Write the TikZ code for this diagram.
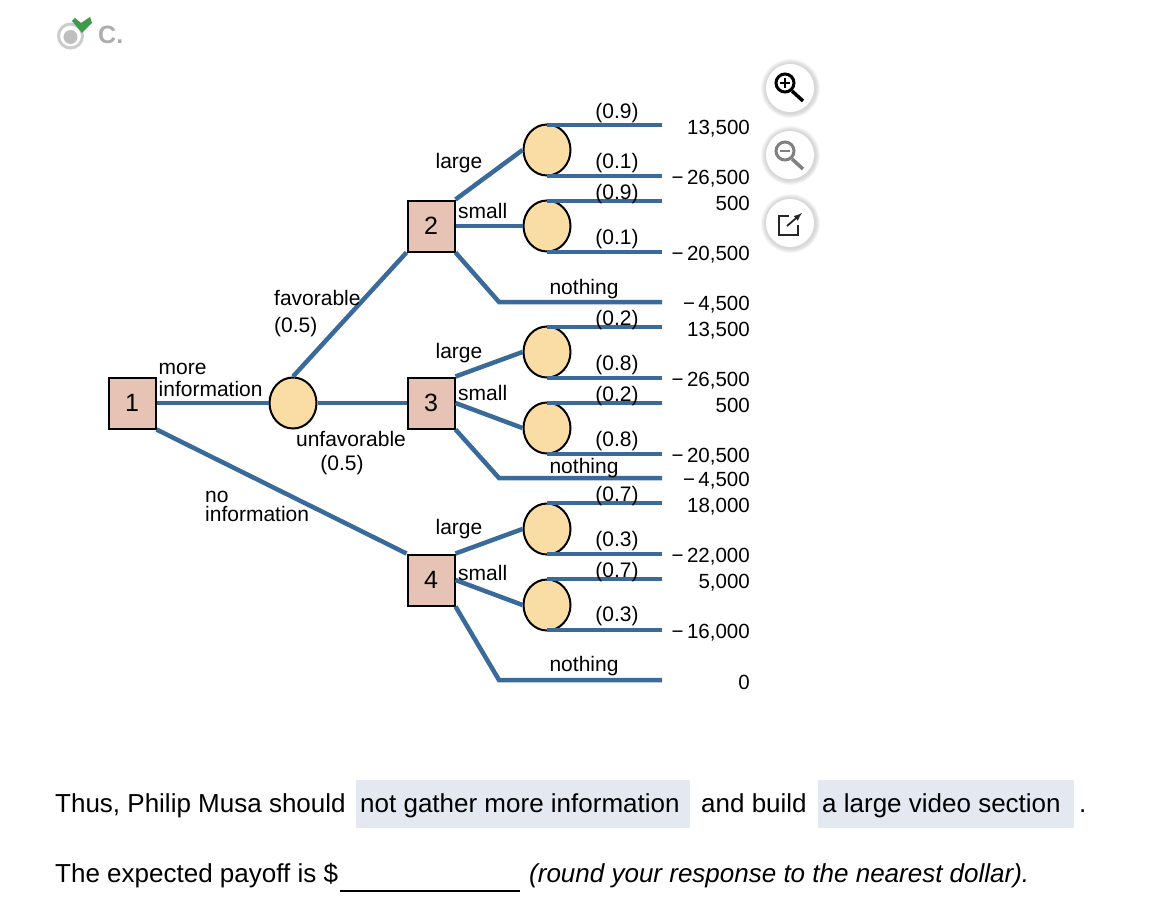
\documentclass[tikz,border=0pt]{standalone}
\usepackage{fontspec}
\setmainfont{Liberation Sans}
\usepackage{tikz}
\usetikzlibrary{shapes.geometric,shadows}
\definecolor{branchblue}{HTML}{3A6A9A}
\definecolor{decfill}{HTML}{E6C3B4}
\definecolor{chancefill}{HTML}{F9DDA4}
\definecolor{answerfill}{HTML}{E4E8F1}
\definecolor{checkgreen}{HTML}{3F9A4A}
\tikzset{
  decision/.style={draw=black,line width=2pt,fill=decfill,minimum width=47pt,minimum height=51pt,inner sep=0pt,font=\fontsize{25}{27}\selectfont},
  chance/.style={ellipse,draw=black,line width=2pt,fill=chancefill,minimum width=47pt,minimum height=51pt,inner sep=0pt},
  branch/.style={draw=branchblue,line width=4.5pt},
  lbl/.style={inner sep=0pt,yshift=-1.5pt,font=\fontsize{21}{22}\selectfont},
  llbl/.style={lbl,anchor=west,align=left},
  payoff/.style={lbl,anchor=east,font=\fontsize{20.5}{22}\selectfont},
  sentence/.style={inner sep=0pt,anchor=base west,font=\fontsize{26}{28}\selectfont},
  iconbtn/.style={circle,fill=white,minimum size=48pt,inner sep=0pt,circular glow={fill=black!30,opacity=0.5}}
}
\begin{document}
\begin{tikzpicture}[x=1pt,y=-1pt]
   \useasboundingbox (0,0) rectangle (1158,896);

   \fill[answerfill] (356,780) rectangle (690,828);
   \fill[answerfill] (818,780) rectangle (1074,828);

   \draw (132,403) node[decision] (dec1) {1};
   \draw (431,226) node[decision] (dec2) {2};
   \draw (431,403) node[decision] (dec3) {3};
   \draw (431,580) node[decision] (dec4) {4};
   \draw (293,403) node[chance] (info) {};
   \draw (547,150) node[chance] (large2) {};
   \draw (547,226) node[chance] (small2) {};
   \draw (547,352) node[chance] (large3) {};
   \draw (547,428) node[chance] (small3) {};
   \draw (547,529) node[chance] (large4) {};
   \draw (547,605) node[chance] (small4) {};

   \coordinate (end1) at (662,125);
   \coordinate (end2) at (662,176);
   \coordinate (end3) at (662,201);
   \coordinate (end4) at (662,252);
   \coordinate (end5) at (662,302);
   \coordinate (end6) at (662,327);
   \coordinate (end7) at (662,378);
   \coordinate (end8) at (662,403);
   \coordinate (end9) at (662,454);
   \coordinate (end10) at (662,478);
   \coordinate (end11) at (662,503);
   \coordinate (end12) at (662,554);
   \coordinate (end13) at (662,579);
   \coordinate (end14) at (662,630);
   \coordinate (end15) at (662,680);
   \coordinate (bend2) at (499,302);
   \coordinate (bend3) at (499,478);
   \coordinate (bend4) at (499,680);

   \path[branch] (dec1) edge (info);
   \path[branch] (dec1.south east) edge (dec4.north west);
   \path[branch] (info.north) edge (dec2.south west);
   \path[branch] (info) edge (dec3);
   \path[branch] (dec2.north east) edge (large2.west);
   \path[branch] (dec2) edge (small2);
   \draw[branch] (dec2.south east) -- (bend2) -- (end5);
   \path[branch] (dec3.north east) edge (large3.west);
   \path[branch] (dec3.east) edge (small3.west);
   \draw[branch] (dec3.south east) -- (bend3) -- (end10);
   \path[branch] (dec4.north east) edge (large4.west);
   \path[branch] (dec4.east) edge (small4.west);
   \draw[branch] (dec4.south east) -- (bend4) -- (end15);
   \path[branch] (large2 |- end1) edge (end1);
   \path[branch] (large2 |- end2) edge (end2);
   \path[branch] (small2 |- end3) edge (end3);
   \path[branch] (small2 |- end4) edge (end4);
   \path[branch] (large3 |- end6) edge (end6);
   \path[branch] (large3 |- end7) edge (end7);
   \path[branch] (small3 |- end8) edge (end8);
   \path[branch] (small3 |- end9) edge (end9);
   \path[branch] (large4 |- end11) edge (end11);
   \path[branch] (large4 |- end12) edge (end12);
   \path[branch] (small4 |- end13) edge (end13);
   \path[branch] (small4 |- end14) edge (end14);

   \draw (158.5,378) node[llbl] (more) {more\\information};
   \draw (205,505) node[llbl] (noinfo) {no\\[-3pt]information};
   \draw (274,298) node[llbl,yshift=1.5pt] (favor) {favorable};
   \draw (274,326) node[llbl] (favorp) {(0.5)};
   \draw (351,439) node[lbl,yshift=1.5pt] (unfavor) {unfavorable};
   \draw (342,464) node[lbl] (unfavorp) {(0.5)};

   \draw (459,162) node[lbl] (lg2) {large};
   \draw (458,211) node[llbl,yshift=1.5pt] (sm2) {small};
   \draw (459,352) node[lbl] (lg3) {large};
   \draw (458,393) node[llbl,yshift=1.5pt] (sm3) {small};
   \draw (459,528) node[lbl] (lg4) {large};
   \draw (458,573) node[llbl,yshift=1.5pt] (sm4) {small};
   \draw (584,288) node[lbl] (no2) {nothing};
   \draw (584,467) node[lbl] (no3) {nothing};
   \draw (584,665) node[lbl] (no4) {nothing};

   \draw (617,111.5) node[lbl] (p1) {(0.9)};
   \draw (617,161.5) node[lbl] (p2) {(0.1)};
   \draw (617,192.5) node[lbl] (p3) {(0.9)};
   \draw (617,237.5) node[lbl] (p4) {(0.1)};
   \draw (617,318.5) node[lbl] (p5) {(0.2)};
   \draw (617,363.5) node[lbl] (p6) {(0.8)};
   \draw (617,394.5) node[lbl] (p7) {(0.2)};
   \draw (617,439.5) node[lbl] (p8) {(0.8)};
   \draw (617,494.5) node[lbl] (p9) {(0.7)};
   \draw (617,539.5) node[lbl] (p10) {(0.3)};
   \draw (617,570.5) node[lbl] (p11) {(0.7)};
   \draw (617,614.5) node[lbl] (p12) {(0.3)};

   \draw (750,127) node[payoff] (pay1) {13,500};
   \draw (750,177) node[payoff] (pay2) {−\,26,500};
   \draw (750,202) node[payoff] (pay3) {500};
   \draw (750,253) node[payoff] (pay4) {−\,20,500};
   \draw (750,303) node[payoff] (pay5) {−\,4,500};
   \draw (750,329) node[payoff] (pay6) {13,500};
   \draw (750,379) node[payoff] (pay7) {−\,26,500};
   \draw (750,404) node[payoff] (pay8) {500};
   \draw (750,455) node[payoff] (pay9) {−\,20,500};
   \draw (750,479) node[payoff] (pay10) {−\,4,500};
   \draw (750,505) node[payoff] (pay11) {18,000};
   \draw (750,555) node[payoff] (pay12) {−\,22,000};
   \draw (750,581) node[payoff] (pay13) {5,000};
   \draw (750,631) node[payoff] (pay14) {−\,16,000};
   \draw (750,681) node[payoff] (pay15) {0};

   \draw (55,812) node[sentence] (thus) {Thus, Philip Musa should};
   \draw (360,812) node[sentence] (gather) {not gather more information};
   \draw (701,812) node[sentence] (build) {and build};
   \draw (822,812) node[sentence] (section) {a large video section};
   \draw (1079,812) node[sentence] (stop) {.};
   \draw (55,882) node[sentence] (payoff) {The expected payoff is \$};
   \draw (529,882) node[sentence] (round) {\itshape (round your response to the nearest dollar).};
   \coordinate (blankl) at (340,891);
   \coordinate (blankr) at (520,891);
   \draw[line width=2pt] (blankl) -- (blankr);

   \draw (98,35) node[inner sep=0pt,anchor=west,text=black!32,font=\fontsize{25}{27}\bfseries\selectfont] (part) {C.};
   \draw[black!20,line width=3pt] (70.5,36) circle (12);
   \fill[black!25] (70.5,37) circle (7);
   \fill[checkgreen] (72,21) -- (75,18) -- (81,23) -- (90,17) -- (92,23) -- (82,33) -- cycle;

   \draw (790,88) node[iconbtn] (zoomin) {};
   \draw (790,155) node[iconbtn] (zoomout) {};
   \draw (790,223) node[iconbtn] (popout) {};
   \draw[line width=3pt] (785,83) circle (9);
   \draw[line width=3.5pt] (792,91) -- (803,101);
   \draw[line width=1.4pt] (780,83) -- (790,83) (785,78) -- (785,88);
   \draw[black!50,line width=3pt] (785,151) circle (9);
   \draw[black!50,line width=3.5pt] (792,159) -- (803,169);
   \draw[black!50,line width=1.4pt] (780,151) -- (790,151);
   \draw[black!85,line width=1.6pt] (789,216) -- (779,216) -- (779,235) -- (798,235) -- (798,225);
   \draw[black!85,line width=1.8pt,-latex] (787,226) -- (802,213);
\end{tikzpicture}
\end{document}
